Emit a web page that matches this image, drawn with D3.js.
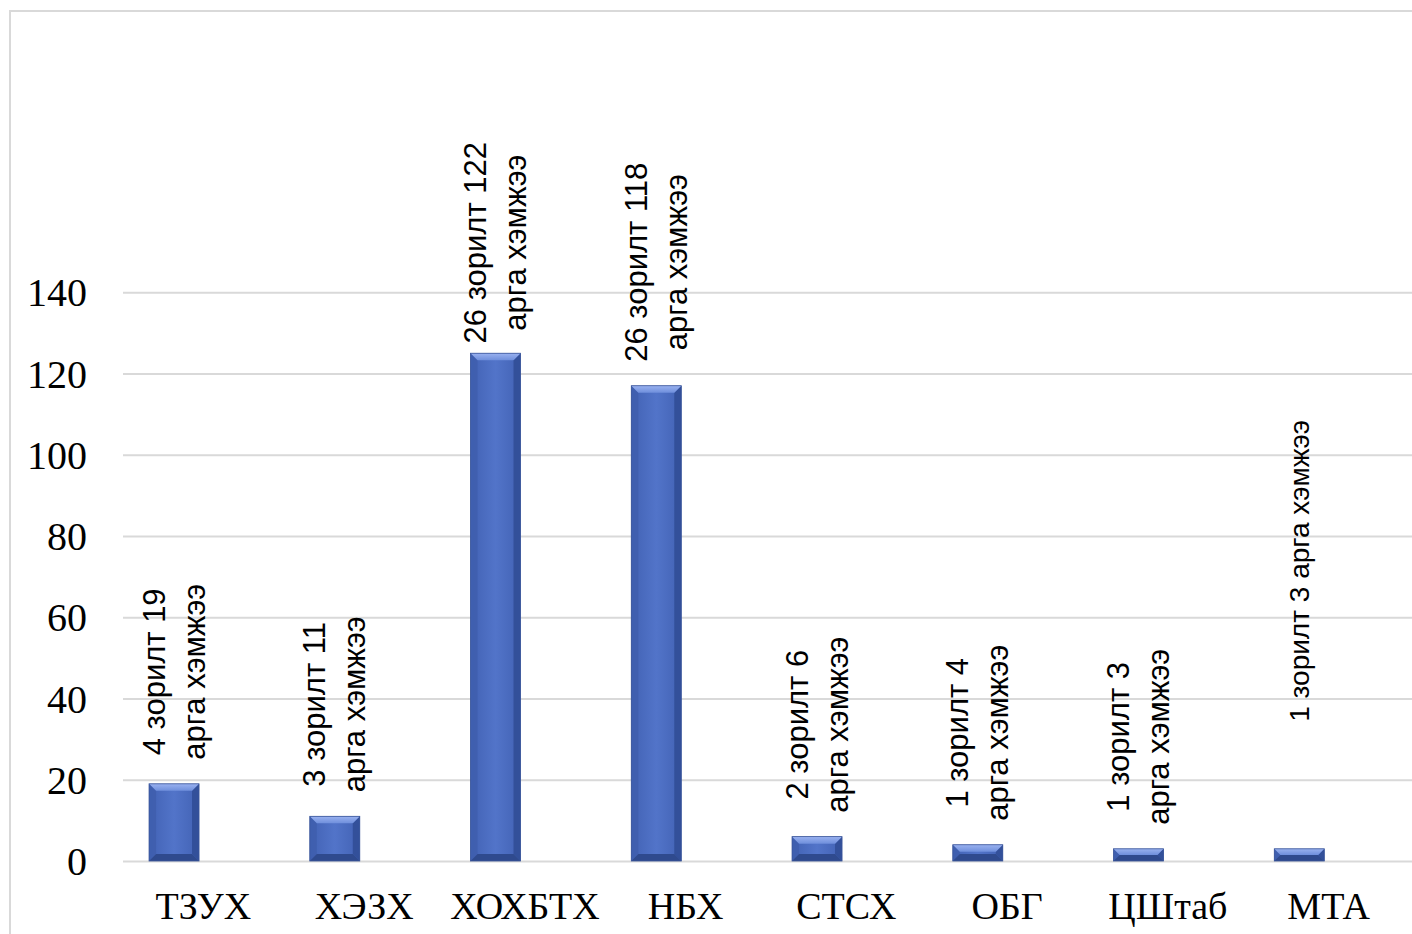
<!DOCTYPE html>
<html>
<head>
<meta charset="utf-8">
<script src="https://cdn.jsdelivr.net/npm/d3@7/dist/d3.min.js"></script>
<style>
  html, body { margin: 0; padding: 0; background: #fff; }
  svg { display: block; }
  .serif { font-family: 'Liberation Serif', 'Times New Roman', serif; }
</style>
</head>
<body>
<svg id="chart" width="1412" height="934"></svg>
<script>
// ---- data ----
const categories = ["ТЗУХ", "ХЭЗХ", "ХОХБТХ", "НБХ", "СТСХ", "ОБГ", "ЦШтаб", "МТА"];
const seriesNames = ["Арга хэмжээ", "Хоосон"];
const measures = [19, 11, 125, 117, 6, 4, 3, 3];
const emptySeries = [0, 0, 0, 0, 0, 0, 0, 0];
const labelLine1 = ["4 зорилт 19", "3 зорилт 11", "26 зорилт 122", "26 зорилт 118",
                    "2 зорилт 6", "1 зорилт 4", "1 зорилт 3", "1 зорилт 3 арга хэмжээ"];
const labelLine2 = ["арга хэмжээ", "арга хэмжээ", "арга хэмжээ", "арга хэмжээ",
                    "арга хэмжээ", "арга хэмжээ", "арга хэмжээ", ""];
const yTicks = [0, 20, 40, 60, 80, 100, 120, 140];

// ---- layout ----
const W = 1412, H = 934;
const plot = { left: 123, right: 1409, top: 292.3, bottom: 861 };
const svg = d3.select("#chart");

const defs = svg.append("defs");
const grad = defs.append("linearGradient").attr("id", "face").attr("x1", 0).attr("x2", 1).attr("y1", 0).attr("y2", 0);
grad.append("stop").attr("offset", "0%").attr("stop-color", "#4262b4");
grad.append("stop").attr("offset", "50%").attr("stop-color", "#5274c9");
grad.append("stop").attr("offset", "100%").attr("stop-color", "#4262b4");
const gradTop = defs.append("linearGradient").attr("id", "topb").attr("x1", 0).attr("x2", 0).attr("y1", 0).attr("y2", 1);
gradTop.append("stop").attr("offset", "0%").attr("stop-color", "#9ab2f0");
gradTop.append("stop").attr("offset", "100%").attr("stop-color", "#6f8fdc");

// chart frame
svg.append("path")
  .attr("d", `M10,${H} L10,11 L${W},11`)
  .attr("fill", "none").attr("stroke", "#d9d9d9").attr("stroke-width", 2);

const x = d3.scaleBand().domain(categories).range([plot.left, plot.right]).padding(0);
const bw = x.bandwidth();
const x1 = d3.scaleBand().domain(seriesNames)
  .range([bw * 0.162, bw * 0.162 + bw * 0.622]).padding(0);
const y = d3.scaleLinear().domain([0, 140]).range([plot.bottom, plot.top]);

// gridlines + y labels
const gAxisY = svg.append("g")
  .attr("transform", `translate(${plot.left},0)`)
  .call(d3.axisLeft(y).tickValues(yTicks).tickSize(-(plot.right - plot.left + 3)).tickFormat(d3.format("d")).tickPadding(36));
gAxisY.attr("font-family", null).attr("font-size", null);
gAxisY.select(".domain").remove();
gAxisY.selectAll(".tick line").attr("stroke", "#d9d9d9").attr("stroke-width", 2);
gAxisY.selectAll(".tick text")
  .attr("class", "serif")
  .style("font-family", "'Liberation Serif', 'Times New Roman', serif")
  .style("font-size", "40px").attr("fill", "#000").attr("dy", "0.34em");

// category axis labels
const gAxisX = svg.append("g")
  .attr("transform", `translate(0,${plot.bottom})`)
  .call(d3.axisBottom(x).tickSize(0).tickPadding(0));
gAxisX.attr("font-family", null).attr("font-size", null);
gAxisX.select(".domain").remove();
gAxisX.selectAll(".tick text")
  .style("font-family", "'Liberation Serif', 'Times New Roman', serif")
  .style("font-size", "38px").attr("fill", "#000")
  .attr("dy", 0).attr("y", 58);

// bars with bevel
const rows = categories.map((c, i) => ({ cat: c, v: measures[i], e: emptySeries[i], l1: labelLine1[i], l2: labelLine2[i] }));
const gBars = svg.append("g");
rows.forEach(r => {
  const x0 = x(r.cat) + x1(seriesNames[0]);
  const w = x1.bandwidth();
  const yt = y(r.v), yb = y(0);
  const h = yb - yt;
  const b = Math.min(7, h / 2, w / 2);
  const g = gBars.append("g");
  g.append("rect").attr("x", x0).attr("y", yt).attr("width", w).attr("height", h).attr("fill", "url(#face)");
  // left bevel
  g.append("path").attr("d", `M${x0},${yt} L${x0 + b},${yt + b} L${x0 + b},${yb - b} L${x0},${yb} Z`).attr("fill", "#3f5eae").attr("opacity", 0.9);
  // right bevel
  g.append("path").attr("d", `M${x0 + w},${yt} L${x0 + w - b},${yt + b} L${x0 + w - b},${yb - b} L${x0 + w},${yb} Z`).attr("fill", "#33509a");
  // bottom bevel
  g.append("path").attr("d", `M${x0},${yb} L${x0 + b},${yb - b} L${x0 + w - b},${yb - b} L${x0 + w},${yb} Z`).attr("fill", "#2f4a8e");
  // top bevel
  g.append("path").attr("d", `M${x0},${yt} L${x0 + w},${yt} L${x0 + w - b},${yt + b} L${x0 + b},${yt + b} Z`).attr("fill", "url(#topb)");
  g.append("rect").attr("x", x0).attr("y", yt).attr("width", w).attr("height", h)
    .attr("fill", "none").attr("stroke", "#3a5599").attr("stroke-width", 0.8);
});

// data labels (rotated)
const labelFont = "'Liberation Sans', Arial, sans-serif";
const lineH = 40;
const gap = 24;
const extraLift = { "МТА": 103 };
const minTop = 142;
const gLabels = svg.append("g");
rows.forEach(r => {
  const lines = [r.l1, r.l2].filter(s => s.length);
  const size = lines.length > 1 ? 31 : 28;
  const cx = x(r.cat) + x1(seriesNames[0]) + x1.bandwidth() / 2;
  const g = gLabels.append("g");
  const texts = lines.map((s, i) => g.append("text")
    .style("font-family", labelFont).style("font-size", size + "px").attr("fill", "#000")
    .attr("text-anchor", "middle").attr("dominant-baseline", "central")
    .attr("y", (i - (lines.length - 1) / 2) * lineH).text(s));
  const L = d3.max(texts, t => t.node().getComputedTextLength());
  let bottom = y(r.v) - gap - (extraLift[r.cat] || 0);
  if (bottom - L < minTop) bottom = minTop + L;
  texts.forEach(t => t.attr("x", L / 2));
  g.attr("transform", `translate(${cx},${bottom}) rotate(-90)`);
});
</script>
</body>
</html>
